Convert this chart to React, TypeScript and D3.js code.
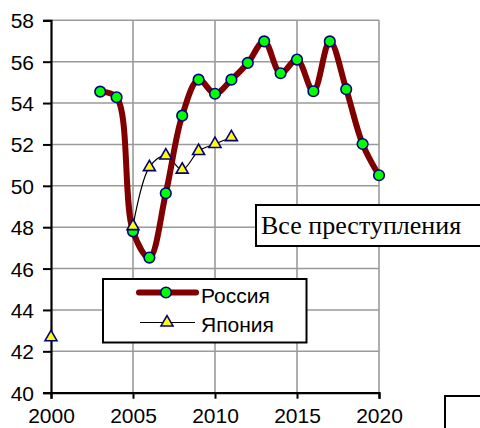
import { useEffect, useRef } from "react";
import * as d3 from "d3";

const russiaYears = [2003, 2004, 2005, 2006, 2007, 2008, 2009, 2010, 2011, 2012, 2013, 2014, 2015, 2016, 2017, 2018, 2019, 2020];
const russiaValues = [54.55, 54.28, 47.8, 46.53, 49.64, 53.39, 55.13, 54.45, 55.13, 55.94, 56.98, 55.44, 56.1, 54.57, 56.98, 54.67, 52.02, 50.51];

const japanYears = [2000, 2001, 2002, 2003, 2004, 2005, 2006, 2007, 2008, 2009, 2010, 2011];
const japanValues: (number | null)[] = [42.68, null, null, null, null, 48.05, 50.9, 51.46, 50.78, 51.68, 52.02, 52.35];

const xTicks = [2000, 2005, 2010, 2015, 2020];
const yTicks = [40, 42, 44, 46, 48, 50, 52, 54, 56, 58];

const seriesNames = ["Россия", "Япония"];
const boxLabel = "Все преступления";

export default function App() {
  const ref = useRef<SVGSVGElement>(null);

  useEffect(() => {
    const svg = d3.select(ref.current);
    svg.selectAll("*").remove();

    const x = d3.scaleLinear().domain([2000, 2020]).range([51, 379]);
    const y = d3.scaleLinear().domain([40, 58]).range([392.7, 20.3]);
    const font = "'Liberation Sans', Arial, sans-serif";

    // grid
    const grid = svg.append("g").attr("stroke", "#9a9a9a").attr("stroke-width", 1.6);
    yTicks.filter(t => t > 40).forEach(t => {
      grid.append("line").attr("x1", x(2000)).attr("x2", x(2020)).attr("y1", y(t)).attr("y2", y(t));
    });
    xTicks.filter(t => t > 2000).forEach(t => {
      grid.append("line").attr("x1", x(t)).attr("x2", x(t)).attr("y1", y(40)).attr("y2", y(58));
    });

    // axes
    const yAxis = d3.axisLeft(y).tickValues(yTicks).tickSize(8).tickPadding(9).tickFormat(d3.format("d"));
    const xAxis = d3.axisBottom(x).tickValues(xTicks).tickSize(6).tickPadding(9).tickFormat(d3.format("d"));
    const gy = svg.append("g").attr("transform", `translate(${x(2000)},0)`).call(yAxis);
    const gx = svg.append("g").attr("transform", `translate(0,${y(40)})`).call(xAxis);
    [gx, gy].forEach(g => {
      g.select(".domain").attr("stroke", "#000").attr("stroke-width", 2.2);
      g.selectAll(".tick line").attr("stroke", "#000").attr("stroke-width", 2);
      g.selectAll(".tick text").attr("font-family", font).attr("font-size", 21).attr("fill", "#000");
    });
    gy.selectAll(".tick text").attr("dy", "0.36em");

    // Japan
    const japan = japanYears.map((yr, i) => ({ yr, v: japanValues[i] }));
    const jLine = d3.line<{ yr: number; v: number | null }>()
      .defined(d => d.v !== null)
      .x(d => x(d.yr))
      .y(d => y(d.v as number))
      .curve(d3.curveCatmullRom.alpha(0.5));
    svg.append("path").attr("d", jLine(japan)).attr("fill", "none").attr("stroke", "#000").attr("stroke-width", 1.2);

    // Russia
    const russia = russiaYears.map((yr, i) => ({ yr, v: russiaValues[i] }));
    const rLine = d3.line<{ yr: number; v: number }>()
      .x(d => x(d.yr))
      .y(d => y(d.v))
      .curve(d3.curveCatmullRom.alpha(0.5));
    svg.append("path").attr("d", rLine(russia)).attr("fill", "none").attr("stroke", "#800000")
      .attr("stroke-width", 6).attr("stroke-linejoin", "round").attr("stroke-linecap", "round");

    const tri = d3.symbol().type(d3.symbolTriangle).size(62);
    const drawTri = (g: any, cx: number, cy: number) => {
      g.append("path").attr("d", tri()).attr("transform", `translate(${cx},${cy})`)
        .attr("fill", "#ffff00").attr("stroke", "#000080").attr("stroke-width", 1.6);
    };
    const drawDot = (g: any, cx: number, cy: number) => {
      g.append("circle").attr("cx", cx).attr("cy", cy).attr("r", 5.3)
        .attr("fill", "#00ff00").attr("stroke", "#000080").attr("stroke-width", 1.6);
    };

    russia.forEach(d => drawDot(svg, x(d.yr), y(d.v)));
    japan.filter(d => d.v !== null).forEach(d => drawTri(svg, x(d.yr), y(d.v as number)));

    // legend
    const lg = svg.append("g");
    lg.append("rect").attr("x", 103).attr("y", 279).attr("width", 203.5).attr("height", 63.5)
      .attr("fill", "#fff").attr("stroke", "#000").attr("stroke-width", 2);
    lg.append("line").attr("x1", 139).attr("x2", 196).attr("y1", 292.5).attr("y2", 292.5)
      .attr("stroke", "#800000").attr("stroke-width", 6).attr("stroke-linecap", "round");
    drawDot(lg, 166, 292.5);
    lg.append("line").attr("x1", 140).attr("x2", 195).attr("y1", 322.5).attr("y2", 322.5)
      .attr("stroke", "#000").attr("stroke-width", 1.2);
    drawTri(lg, 167, 322.5);
    seriesNames.forEach((name, i) => {
      lg.append("text").attr("x", 201).attr("y", 303 + i * 29).text(name)
        .attr("font-family", font).attr("font-size", 21).attr("fill", "#000");
    });

    // label box
    svg.append("rect").attr("x", 256).attr("y", 205).attr("width", 240).attr("height", 41)
      .attr("fill", "#fff").attr("stroke", "#000").attr("stroke-width", 2);
    svg.append("text").attr("x", 261).attr("y", 234).text(boxLabel)
      .attr("font-family", "'Liberation Serif', 'Times New Roman', serif").attr("font-size", 26).attr("fill", "#000");

    // partial box bottom right
    svg.append("rect").attr("x", 445).attr("y", 396).attr("width", 60).attr("height", 60)
      .attr("fill", "#fff").attr("stroke", "#000").attr("stroke-width", 2);
  }, []);

  return (
    <svg ref={ref} width={480} height={428}
      style={{ position: "absolute", left: 0, top: 0, background: "#fff" }} />
  );
}
